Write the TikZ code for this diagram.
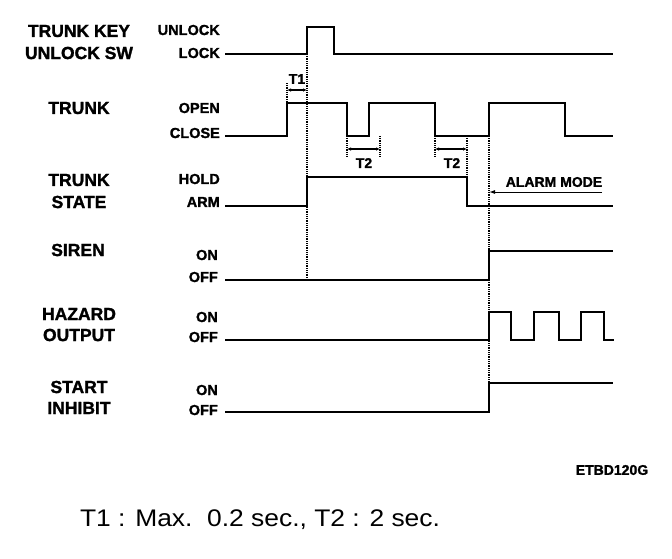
\documentclass[tikz,border=0pt]{standalone}
\usepackage{fontspec}
\setmainfont{Liberation Sans}
\newfontfamily\heavy[FakeBold=1.5]{Liberation Sans Bold}
\usetikzlibrary{arrows.meta}
\begin{document}
\begin{tikzpicture}[x=1pt,y=-1pt,
  sig/.style={line width=2.6pt, line join=miter},
  dots/.style={line width=1.4pt, dash pattern=on 1pt off 0.8pt},
  lab/.style={font=\heavy\fontsize{17.5}{18}\selectfont, inner sep=0pt},
  lev/.style={font=\heavy\fontsize{14.5}{15}\selectfont, inner sep=0pt, anchor=east},
  tlab/.style={font=\heavy\fontsize{14}{14}\selectfont, inner sep=0pt},
  dimarr/.style={line width=1.2pt, {Latex[length=4pt,width=3.5pt]}-{Latex[length=4pt,width=3.5pt]}}
]
\useasboundingbox (0,0) rectangle (672,558);

% left signal names
\node[lab] (n1a) at (79,31) {TRUNK KEY};
\node[lab] (n1b) at (79,53) {UNLOCK SW};
\node[lab] (n2) at (79,108) {TRUNK};
\node[lab] (n3a) at (79,180) {TRUNK};
\node[lab] (n3b) at (79,202) {STATE};
\node[lab] (n4) at (78,250) {SIREN};
\node[lab] (n5a) at (79,314) {HAZARD};
\node[lab] (n5b) at (79,335) {OUTPUT};
\node[lab] (n6a) at (79,387) {START};
\node[lab] (n6b) at (79,408) {INHIBIT};

% level names
\node[lev] (l1h) at (220,30) {UNLOCK};
\node[lev] (l1l) at (220,53) {LOCK};
\node[lev] (l2h) at (220,108) {OPEN};
\node[lev] (l2l) at (220,133) {CLOSE};
\node[lev] (l3h) at (220,179) {HOLD};
\node[lev] (l3l) at (220,202) {ARM};
\node[lev] (l4h) at (218,255) {ON};
\node[lev] (l4l) at (218,277) {OFF};
\node[lev] (l5h) at (218,317) {ON};
\node[lev] (l5l) at (218,337) {OFF};
\node[lev] (l6h) at (218,390) {ON};
\node[lev] (l6l) at (218,410) {OFF};

% dotted reference lines
\draw[dots] (307,54) -- (307,280);
\draw[dots] (489,136) -- (489,383);
\draw[dots] (287,83) -- (287,103);
\draw[dots] (347,136) -- (347,157);
\draw[dots] (380,136) -- (380,157);
\draw[dots] (435,136) -- (435,157);
\draw[dots] (467,136) -- (467,177);

% waveforms
\draw[sig] (225,54) -- (307,54) -- (307,27) -- (334,27) -- (334,54) -- (613,54);
\draw[sig] (225,136) -- (287,136) -- (287,103) -- (347,103) -- (347,136) -- (369,136) -- (369,103) -- (435,103) -- (435,136) -- (489,136) -- (489,103) -- (565,103) -- (565,136) -- (613,136);
\draw[sig] (225,206) -- (307,206) -- (307,177) -- (467,177) -- (467,206) -- (613,206);
\draw[sig] (225,280) -- (489,280) -- (489,251) -- (613,251);
\draw[sig] (225,340) -- (489,340) -- (489,312) -- (511,312) -- (511,340) -- (534,340) -- (534,312) -- (559,312) -- (559,340) -- (581,340) -- (581,312) -- (604,312) -- (604,340) -- (614,340);
\draw[sig] (225,412) -- (489,412) -- (489,383) -- (613,383);

% timing marks
\coordinate (t1a) at (287,90); \coordinate (t1b) at (307,90);
\coordinate (t2a) at (347,149); \coordinate (t2b) at (380,149);
\coordinate (t3a) at (435,149); \coordinate (t3b) at (467,149);
\draw[dimarr] (t1a) -- (t1b);
\draw[dimarr] (t2a) -- (t2b);
\draw[dimarr] (t3a) -- (t3b);
\node[tlab] (T1) at (297,79) {T1};
\node[tlab] (T2a) at (364,163) {T2};
\node[tlab] (T2b) at (452,163) {T2};

% alarm mode
\coordinate (am1) at (602,192); \coordinate (am2) at (489,192);
\draw[line width=1pt, -{Latex[length=6pt,width=4pt]}] (am1) -- (am2);
\node[tlab] (AM) at (554,182) {ALARM MODE};

% footer
\node[font=\heavy\fontsize{14}{14}\selectfont, inner sep=0pt] (code) at (612,470) {ETBD120G};
\node[font=\fontsize{24}{24}\selectfont, inner sep=0pt] (note) at (260,520) {\scalebox{1.1}[1]{T1 : Max.\ \ 0.2 sec., T2 : 2 sec.}};
\end{tikzpicture}
\end{document}
